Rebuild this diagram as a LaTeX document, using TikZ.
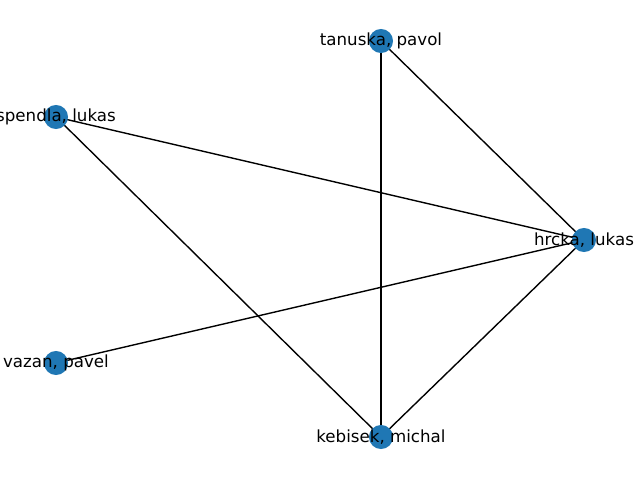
\documentclass[tikz,border=0pt]{standalone}
\usepackage{fontspec}
\setmainfont{DejaVu Sans}
\definecolor{nodeblue}{HTML}{1F77B4}
\tikzset{
  vtx/.style={circle, fill=nodeblue, draw=none, minimum size=17.3pt, inner sep=0pt},
  lbl/.style={font=\fontsize{12pt}{14pt}\selectfont, text=black, inner sep=0pt},
  edge/.style={draw=black, line width=1pt}
}
\begin{document}
\begin{tikzpicture}[x=0.72pt, y=-0.72pt]
\useasboundingbox (0,0) rectangle (640,480);
\coordinate (ct) at (381,41);
\coordinate (cs) at (56,117);
\coordinate (ch) at (584,240);
\coordinate (cv) at (56,363);
\coordinate (ck) at (381,437);
\draw[edge] (ct) -- (ch);
\draw[edge] (ct) -- (ck);
\draw[edge] (cs) -- (ch);
\draw[edge] (cs) -- (ck);
\draw[edge] (ch) -- (cv);
\draw[edge] (ch) -- (ck);
\node[vtx] (t) at (ct) {};
\node[vtx] (s) at (cs) {};
\node[vtx] (h) at (ch) {};
\node[vtx] (v) at (cv) {};
\node[vtx] (k) at (ck) {};
\node[lbl] (lt) at (ct) {tanuska, pavol};
\node[lbl] (ls) at (cs) {spendla, lukas};
\node[lbl] (lh) at (ch) {hrcka, lukas};
\node[lbl] (lv) at (cv) {vazan, pavel};
\node[lbl] (lk) at (ck) {kebisek, michal};
\end{tikzpicture}
\end{document}
